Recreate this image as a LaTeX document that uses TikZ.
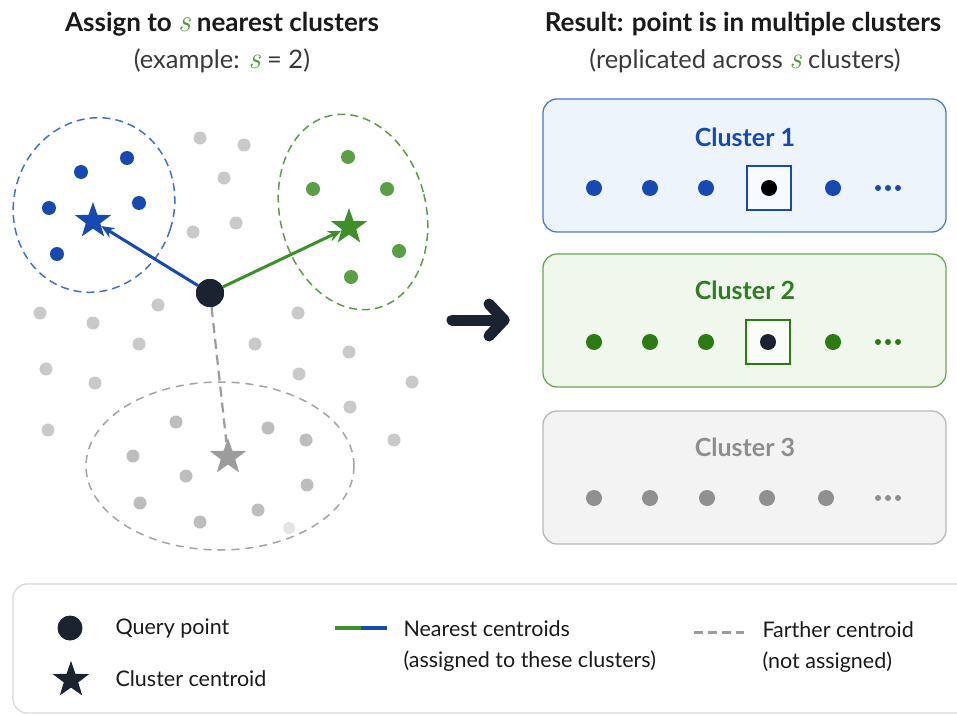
\documentclass[tikz,border=0pt]{standalone}
\usepackage{fontspec}
\setmainfont{Lato}
\newfontfamily\varfont[Scale=1.2]{Latin Modern Roman}
\usetikzlibrary{shapes.geometric,arrows.meta}

\definecolor{inkC}{HTML}{1A1A1A}
\definecolor{subC}{HTML}{3A3A3A}
\definecolor{queryC}{HTML}{1B2230}
\definecolor{blueC}{HTML}{174AB0}
\definecolor{blueLine}{HTML}{3F72D0}
\definecolor{blueFill}{HTML}{EEF4FC}
\definecolor{blueEdge}{HTML}{4A79CF}
\definecolor{greenS}{HTML}{4E9A3A}
\definecolor{greenDot}{HTML}{5A9E45}
\definecolor{greenStar}{HTML}{3E8E2A}
\definecolor{greenLine}{HTML}{5E9A4A}
\definecolor{greenDark}{HTML}{2B7A12}
\definecolor{greenText}{HTML}{2E7D23}
\definecolor{greenFill}{HTML}{F0F7EC}
\definecolor{greenEdge}{HTML}{6AA656}
\definecolor{grayDot}{HTML}{C9C9C9}
\definecolor{grayIn}{HTML}{BDBDBD}
\definecolor{grayStar}{HTML}{9C9C9C}
\definecolor{grayLine}{HTML}{A3A3A3}
\definecolor{grayFill}{HTML}{F3F3F3}
\definecolor{grayEdge}{HTML}{B8B8B8}
\definecolor{grayText}{HTML}{8E8E8E}
\definecolor{grayBox}{HTML}{909090}
\definecolor{legendEdge}{HTML}{D9D9D9}

% the italic variable s, in a light serif face
\newcommand{\varS}{{\color{greenS}\varfont\mdseries\itshape s}}

\tikzset{
  pt/.style={circle,inner sep=0pt,minimum size=#1},
  bdot/.style={pt=14,fill=blueC},
  gdot/.style={pt=14,fill=greenDot},
  odot/.style={pt=13,fill=grayDot},
  idot/.style={pt=13,fill=grayIn},
  cstar/.style={star,star points=5,star point ratio=2.5,inner sep=0pt,minimum size=38,fill=#1},
  querypt/.style={pt=28,fill=queryC},
  clusterbox/.style={rectangle,rounded corners=14,minimum width=403,minimum height=133,line width=1.3,draw=#1},
  boxdot/.style={pt=16,fill=#1},
  tinydot/.style={pt=6,fill=#1},
  markbox/.style={rectangle,minimum size=44,line width=1.6,draw=#1},
  title/.style={font=\fontsize{26}{30}\selectfont\bfseries,text=inkC},
  subtitle/.style={font=\fontsize{25.5}{30}\selectfont,text=subC},
  cname/.style={font=\fontsize{25}{28}\selectfont\bfseries},
  legtext/.style={font=\fontsize{21.5}{31}\selectfont,text=inkC,anchor=west,align=left},
}

\begin{document}
\begin{tikzpicture}[x=1pt,y=-1pt]
\useasboundingbox (0,0) rectangle (957,714);
\fill[white] (0,0) rectangle (957,714);

% ---------- headings ----------
\node[title] (t1) at (222,24) {Assign to \varS{} nearest clusters};
\node[subtitle] (s1) at (222,61) {(example: \varS{} = 2)};
\node[title] (t2) at (743,24) {Result: point is in multiple clusters};
\node[subtitle] (s2) at (745,61) {(replicated across \varS{} clusters)};

% ---------- unassigned background points ----------
\foreach \x/\y [count=\i] in {200/138,244/145,224/178,236/223,193/232,
  40/313,93/323,158/305,139/344,255/344,298/313,349/352,46/369,95/383,
  299/374,412/382,350/407,48/430,394/440}
  \node[odot] (o\i) at (\x,\y) {};

% ---------- cluster 3 region ----------
\draw[grayLine,line width=1.5,dash pattern=on 8pt off 6pt]
  (220,466) ellipse [x radius=134,y radius=84];
\foreach \x/\y [count=\i] in {176/422,268/428,306/440,133/456,186/476,
  307/485,140/503,258/510,200/522}
  \node[idot] (i\i) at (\x,\y) {};
\node[pt=12,fill=grayDot!50] (i10) at (289,528) {};
\node[cstar=grayStar] (gstar) at (228,457) {};

% ---------- cluster 1 region ----------
\draw[blueLine,line width=1.5,dash pattern=on 8pt off 5pt]
  (94,205) ellipse [x radius=80,y radius=88,rotate=-18];
\foreach \x/\y [count=\i] in {127/158,81/172,49/208,139/203,57/254}
  \node[bdot] (b\i) at (\x,\y) {};
\node[cstar=blueC] (bstar) at (93,221) {};

% ---------- cluster 2 region ----------
\draw[greenLine,line width=1.5,dash pattern=on 8pt off 5pt]
  (353,212) ellipse [x radius=73,y radius=99,rotate=14];
\foreach \x/\y [count=\i] in {348/157,313/189,387/189,399/251,351/277}
  \node[gdot] (gr\i) at (\x,\y) {};
\node[cstar=greenStar] (grstar) at (349,227) {};

% ---------- query point and its links ----------
\node[querypt] (q) at (210,293) {};
\draw[grayStar,line width=2.2,dash pattern=on 10pt off 6pt] (q) -- (gstar);
\draw[blueC,line width=3,-{Stealth[length=13pt,width=11pt]}] (q) -- (bstar);
\draw[greenStar,line width=3,-{Stealth[length=13pt,width=11pt]}] (q) -- (grstar);
\node[querypt] (q2) at (q) {};

% ---------- transition arrow ----------
\coordinate (a0) at (452,320);
\coordinate (a1) at (504,320);
\coordinate (a2) at (489,304);
\coordinate (a3) at (489,336);
\draw[queryC,line width=11,line cap=round,line join=round] (a0) -- (a1);
\draw[queryC,line width=11,line cap=round,line join=round] (a2) -- (a1) -- (a3);

% ---------- result clusters ----------
\node[clusterbox=blueEdge,fill=blueFill] (c1) at (744.5,165.5) {};
\node[cname,text=blueC] (c1n) at (745,137) {Cluster 1};
\foreach \x [count=\i] in {594,650,706,833}
  \node[boxdot=blueC] (c1d\i) at (\x,188) {};
\node[markbox=blueC,fill=white!60!blueFill] (c1m) at (769,188) {};
\node[boxdot=black] (c1q) at (769,188) {};
\foreach \x [count=\i] in {878,888,898}
  \node[tinydot=blueC] (c1e\i) at (\x,188) {};

\node[clusterbox=greenEdge,fill=greenFill] (c2) at (744.5,320.5) {};
\node[cname,text=greenText] (c2n) at (745,290) {Cluster 2};
\foreach \x [count=\i] in {594,650,706,833}
  \node[boxdot=greenDark] (c2d\i) at (\x,342) {};
\node[markbox=greenDark,fill=white!60!greenFill] (c2m) at (768,342) {};
\node[boxdot=queryC] (c2q) at (768,342) {};
\foreach \x [count=\i] in {878,888,898}
  \node[tinydot=greenDark] (c2e\i) at (\x,342) {};

\node[clusterbox=grayEdge,fill=grayFill] (c3) at (744.5,477.5) {};
\node[cname,text=grayText] (c3n) at (745,447) {Cluster 3};
\foreach \x [count=\i] in {594,650,707,767,826}
  \node[boxdot=grayBox] (c3d\i) at (\x,498) {};
\foreach \x [count=\i] in {878,888,898}
  \node[tinydot=grayBox] (c3e\i) at (\x,498) {};

% ---------- legend ----------
\draw[legendEdge,line width=1.3,fill=white,rounded corners=14] (13,584) rectangle (990,713);
\node[querypt,pt=25] (lq) at (70,628) {};
\node[legtext] (lqt) at (112,628) {Query point};
\node[cstar=queryC] (ls) at (71,680) {};
\node[legtext] (lst) at (112,679) {Cluster centroid};
\coordinate (l1a) at (335,628);
\coordinate (l1b) at (361,628);
\coordinate (l1c) at (387,628);
\draw[greenStar,line width=4] (l1a) -- (l1b);
\draw[blueC,line width=4] (l1b) -- (l1c);
\node[legtext] (l1t) at (400,646) {Nearest centroids\\(assigned to these clusters)};
\coordinate (l2a) at (694,632);
\coordinate (l2b) at (744,632);
\draw[grayStar,line width=3,dash pattern=on 9pt off 5pt] (l2a) -- (l2b);
\node[legtext] (l2t) at (759,647) {Farther centroid\\(not assigned)};
\end{tikzpicture}
\end{document}
